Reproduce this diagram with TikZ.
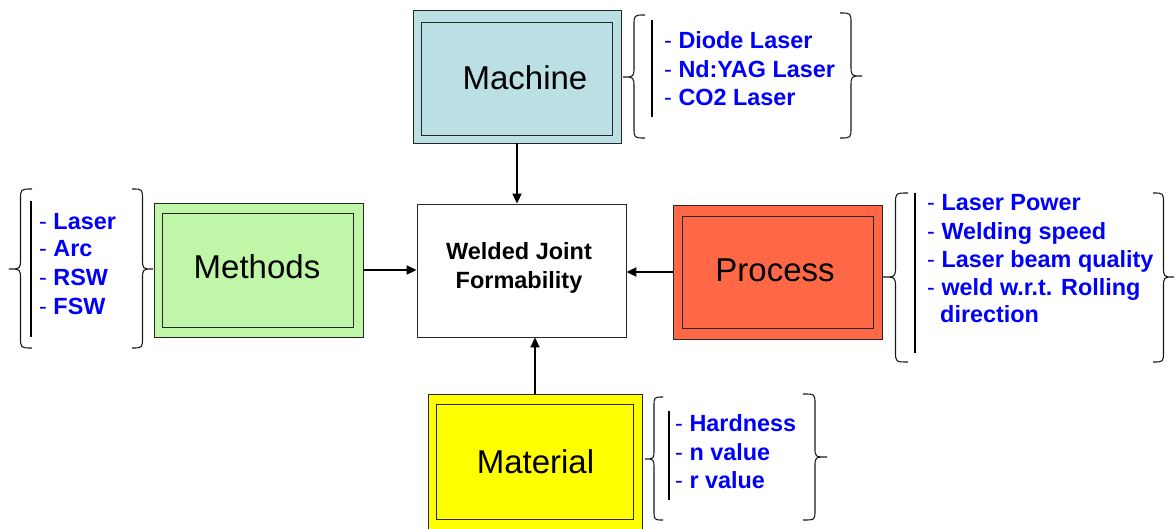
\documentclass[tikz,border=0pt]{standalone}
\usepackage{fontspec}
\setmainfont{Liberation Sans}
\usetikzlibrary{arrows.meta}
\definecolor{machinefill}{RGB}{187,224,227}
\definecolor{methodsfill}{RGB}{192,246,168}
\definecolor{processfill}{RGB}{255,104,70}
\definecolor{materialfill}{RGB}{255,255,0}
\definecolor{itemblue}{RGB}{0,0,250}
\newcommand\itemfont{\fontsize{23.4}{28}\selectfont}
\newcommand\labelfont{\fontsize{33}{38}\selectfont}
\newcommand\centerfont{\fontsize{23.5}{29}\selectfont\bfseries}
% #1 end x, #2 spine x, #3 tip x, #4 top y, #5 tip y, #6 bottom y, #7 curl
\newcommand\mybrace[7]{%
  \draw[bracestyle] (#1,#4) .. controls (#2,#4) .. (#2,{#4+#7})
    -- (#2,{#5-#7}) .. controls (#2,#5) .. (#3,#5)
    .. controls (#2,#5) .. (#2,{#5+#7})
    -- (#2,{#6-#7}) .. controls (#2,#6) .. (#1,#6);}
\tikzset{
  outerbox/.style={draw=black!85, line width=0.9pt, inner sep=0pt},
  innerbox/.style={draw=black!85, line width=0.9pt, inner sep=0pt},
  boxlabel/.style={inner sep=0pt, font=\labelfont, text=black},
  item/.style={anchor=base west, inner sep=0pt, text=itemblue, font=\itemfont},
  bracestyle/.style={draw=black!90, line width=1.1pt},
  sepline/.style={draw=black, line width=1.1pt},
  conn/.style={draw=black, line width=2pt, -{Triangle[length=10pt,width=9pt]}},
}
\begin{document}
\begin{tikzpicture}[x=1pt,y=-1pt]
\useasboundingbox (0,0) rectangle (1175,529);
% boxes
\node[outerbox, fill=machinefill, minimum width=208pt, minimum height=133pt] (machine) at (517,76.5) {};
\node[innerbox, minimum width=191pt, minimum height=113pt] (machineIn) at (516.5,78.5) {};
\node[boxlabel] (machineT) at (525,78) {Machine};

\node[outerbox, fill=methodsfill, minimum width=209pt, minimum height=134pt] (methods) at (258.5,270) {};
\node[innerbox, minimum width=191pt, minimum height=114pt] (methodsIn) at (257.5,270) {};
\node[boxlabel] (methodsT) at (257,267) {Methods};

\node[outerbox, fill=processfill, minimum width=209pt, minimum height=134pt] (process) at (777.5,272) {};
\node[innerbox, minimum width=191pt, minimum height=112pt] (processIn) at (777.5,272) {};
\node[boxlabel] (processT) at (775,270) {Process};

\node[outerbox, fill=materialfill, minimum width=214pt, minimum height=138pt] (material) at (535,463) {};
\node[innerbox, minimum width=197pt, minimum height=115pt] (materialIn) at (534.5,461.5) {};
\node[boxlabel] (materialT) at (535.5,462) {Material};

\node[outerbox, fill=white, minimum width=209pt, minimum height=133pt] (center) at (521.5,270.5) {};
\node[inner sep=0pt, align=center, font=\centerfont] (centerT) at (519,267.5) {Welded Joint\\Formability};

% connectors
\draw[conn] (machine.south) -- (machine.south |- center.north);
\draw[conn] (methods.east) -- (methods.east -| center.west);
\draw[conn] (process.west) -- (process.west -| center.east);
\draw[conn] (material.north) -- (material.north |- center.south);

% machine list
\mybrace{645}{634}{623}{15}{77}{138}{11}
\draw[sepline] (652,20) -- (652,117);
\node[item] (mc1) at (664,49) {- \textbf{Diode Laser}};
\node[item] (mc2) at (664,78) {- \textbf{Nd:YAG Laser}};
\node[item] (mc3) at (664,106) {- \textbf{CO2 Laser}};
\mybrace{840}{851}{862}{13}{76}{138}{11}

% methods list
\mybrace{32}{20.5}{9}{189}{269}{348}{11}
\draw[sepline] (31,201) -- (31,337);
\node[item] (me1) at (39,230) {- \textbf{Laser}};
\node[item] (me2) at (39,257) {- \textbf{Arc}};
\node[item] (me3) at (39,286) {- \textbf{RSW}};
\node[item] (me4) at (39,314) {- \textbf{FSW}};
\mybrace{132}{142.5}{153}{189}{269}{348}{11}

% process list
\mybrace{908}{895.5}{883}{193}{277}{362}{11}
\draw[sepline] (915,193) -- (915,353);
\node[item] (pr1) at (927,211) {- \textbf{Laser Power}};
\node[item] (pr2) at (927,240) {- \textbf{Welding speed}};
\node[item] (pr3) at (927,268) {- \textbf{Laser beam quality}};
\node[item] (pr4) at (927,295) {- \textbf{weld w.r.t. Rolling}};
\node[item] (pr5) at (940,323) {\textbf{direction}};
\mybrace{1153}{1163.5}{1174}{193}{277}{362}{11}

% material list
\mybrace{663}{654}{645}{397}{459}{520}{10}
\draw[sepline] (669,411) -- (669,500);
\node[item] (ma1) at (675,431) {- \textbf{Hardness}};
\node[item] (ma2) at (675,460) {- \textbf{n value}};
\node[item] (ma3) at (675,488) {- \textbf{r value}};
\mybrace{803}{815}{827}{394}{457}{520}{10}
\end{tikzpicture}
\end{document}
